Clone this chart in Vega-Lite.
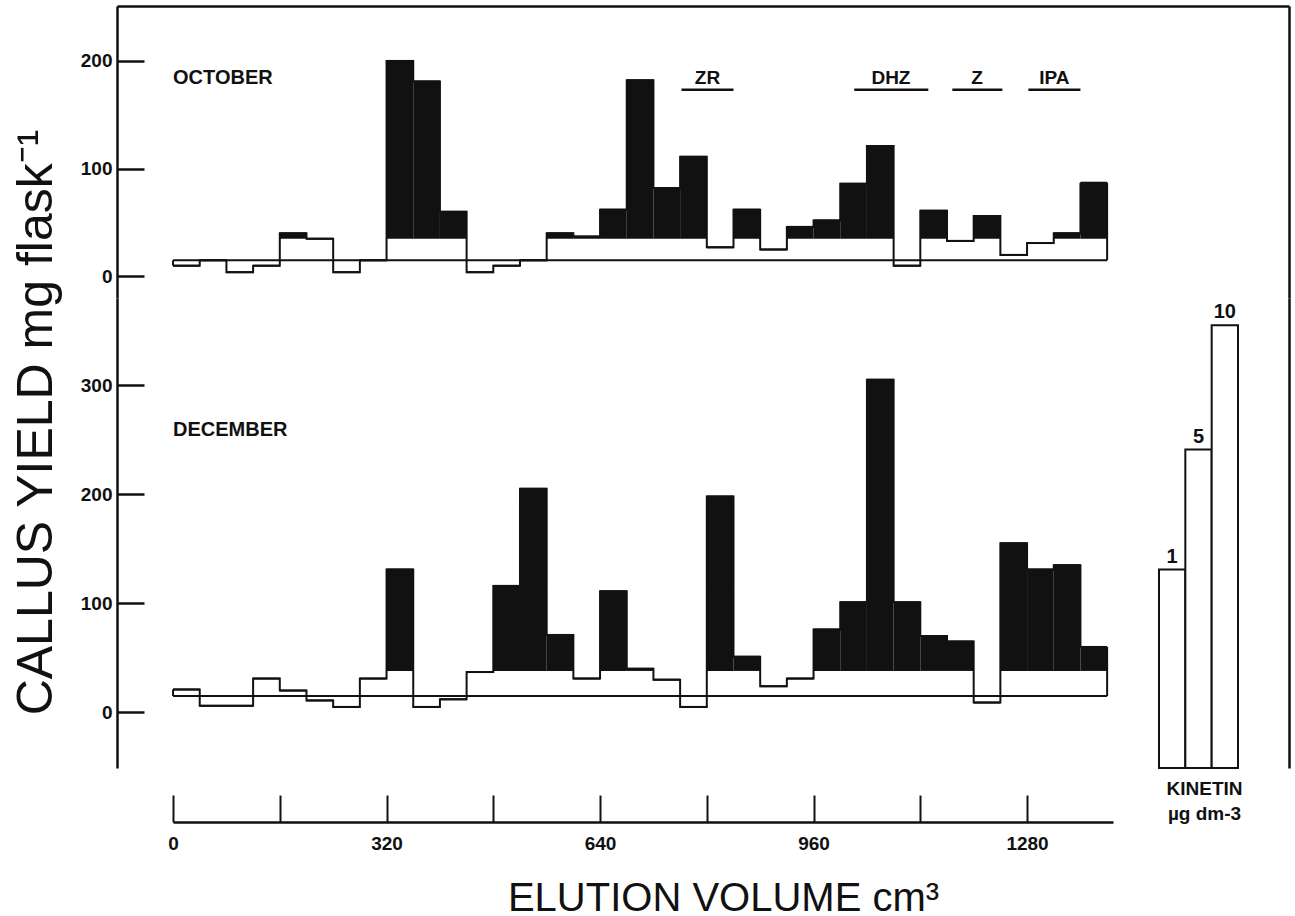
{
  "$schema": "https://vega.github.io/schema/vega-lite/v6.json",
  "background": "white",
  "padding": {"left": 10, "top": 6, "right": 5, "bottom": 0},
  "config": {"view": {"stroke": null}},
  "spacing": 0,
  "bounds": "flush",
  "datasets": {
    "levels": [
      {"month": "OCT", "label": "OCTOBER", "from": 0, "to": 1400, "control": 15, "thr": 35},
      {"month": "DEC", "label": "DECEMBER", "from": 0, "to": 1400, "control": 15, "thr": 38}
    ],
    "fr": [
      {"month": "OCT", "start": 0, "end": 40, "v": 10}, {"month": "OCT", "start": 40, "end": 80, "v": 15}, {"month": "OCT", "start": 80, "end": 120, "v": 4},
      {"month": "OCT", "start": 120, "end": 160, "v": 10}, {"month": "OCT", "start": 160, "end": 200, "v": 40}, {"month": "OCT", "start": 200, "end": 240, "v": 35},
      {"month": "OCT", "start": 240, "end": 280, "v": 4}, {"month": "OCT", "start": 280, "end": 320, "v": 15}, {"month": "OCT", "start": 320, "end": 360, "v": 200},
      {"month": "OCT", "start": 360, "end": 400, "v": 181}, {"month": "OCT", "start": 400, "end": 440, "v": 60}, {"month": "OCT", "start": 440, "end": 480, "v": 4},
      {"month": "OCT", "start": 480, "end": 520, "v": 10}, {"month": "OCT", "start": 520, "end": 560, "v": 15}, {"month": "OCT", "start": 560, "end": 600, "v": 40},
      {"month": "OCT", "start": 600, "end": 640, "v": 37}, {"month": "OCT", "start": 640, "end": 680, "v": 62}, {"month": "OCT", "start": 680, "end": 720, "v": 182},
      {"month": "OCT", "start": 720, "end": 760, "v": 82}, {"month": "OCT", "start": 760, "end": 800, "v": 111}, {"month": "OCT", "start": 800, "end": 840, "v": 27},
      {"month": "OCT", "start": 840, "end": 880, "v": 62}, {"month": "OCT", "start": 880, "end": 920, "v": 25}, {"month": "OCT", "start": 920, "end": 960, "v": 46},
      {"month": "OCT", "start": 960, "end": 1000, "v": 52}, {"month": "OCT", "start": 1000, "end": 1040, "v": 86}, {"month": "OCT", "start": 1040, "end": 1080, "v": 121},
      {"month": "OCT", "start": 1080, "end": 1120, "v": 10}, {"month": "OCT", "start": 1120, "end": 1160, "v": 61}, {"month": "OCT", "start": 1160, "end": 1200, "v": 33},
      {"month": "OCT", "start": 1200, "end": 1240, "v": 56}, {"month": "OCT", "start": 1240, "end": 1280, "v": 20}, {"month": "OCT", "start": 1280, "end": 1320, "v": 31},
      {"month": "OCT", "start": 1320, "end": 1360, "v": 40}, {"month": "OCT", "start": 1360, "end": 1400, "v": 87},
      {"month": "DEC", "start": 0, "end": 40, "v": 21}, {"month": "DEC", "start": 40, "end": 80, "v": 6}, {"month": "DEC", "start": 80, "end": 120, "v": 6},
      {"month": "DEC", "start": 120, "end": 160, "v": 31}, {"month": "DEC", "start": 160, "end": 200, "v": 20}, {"month": "DEC", "start": 200, "end": 240, "v": 11},
      {"month": "DEC", "start": 240, "end": 280, "v": 5}, {"month": "DEC", "start": 280, "end": 320, "v": 31}, {"month": "DEC", "start": 320, "end": 360, "v": 131},
      {"month": "DEC", "start": 360, "end": 400, "v": 5}, {"month": "DEC", "start": 400, "end": 440, "v": 12}, {"month": "DEC", "start": 440, "end": 480, "v": 37},
      {"month": "DEC", "start": 480, "end": 520, "v": 116}, {"month": "DEC", "start": 520, "end": 560, "v": 205}, {"month": "DEC", "start": 560, "end": 600, "v": 71},
      {"month": "DEC", "start": 600, "end": 640, "v": 31}, {"month": "DEC", "start": 640, "end": 680, "v": 111}, {"month": "DEC", "start": 680, "end": 720, "v": 40},
      {"month": "DEC", "start": 720, "end": 760, "v": 30}, {"month": "DEC", "start": 760, "end": 800, "v": 5}, {"month": "DEC", "start": 800, "end": 840, "v": 198},
      {"month": "DEC", "start": 840, "end": 880, "v": 51}, {"month": "DEC", "start": 880, "end": 920, "v": 24}, {"month": "DEC", "start": 920, "end": 960, "v": 31},
      {"month": "DEC", "start": 960, "end": 1000, "v": 76}, {"month": "DEC", "start": 1000, "end": 1040, "v": 101}, {"month": "DEC", "start": 1040, "end": 1080, "v": 305},
      {"month": "DEC", "start": 1080, "end": 1120, "v": 101}, {"month": "DEC", "start": 1120, "end": 1160, "v": 70}, {"month": "DEC", "start": 1160, "end": 1200, "v": 65},
      {"month": "DEC", "start": 1200, "end": 1240, "v": 9}, {"month": "DEC", "start": 1240, "end": 1280, "v": 155}, {"month": "DEC", "start": 1280, "end": 1320, "v": 131},
      {"month": "DEC", "start": 1320, "end": 1360, "v": 135}, {"month": "DEC", "start": 1360, "end": 1400, "v": 60}
    ],
    "std": [
      {"name": "ZR", "start": 762, "end": 840, "mid": 801},
      {"name": "DHZ", "start": 1021, "end": 1132, "mid": 1076},
      {"name": "Z", "start": 1168, "end": 1243, "mid": 1205},
      {"name": "IPA", "start": 1282, "end": 1360, "mid": 1321}
    ],
    "kin": [
      {"dose": "1", "yield": 131, "base": -51},
      {"dose": "5", "yield": 241, "base": -51},
      {"dose": "10", "yield": 355, "base": -51}
    ]
  },
  "vconcat": [
    {
      "width": 1172,
      "height": 292,
      "layer": [
        {
          "data": {"name": "levels"},
          "transform": [{"filter": "datum.month == 'OCT'"}],
          "mark": {"type": "rule", "stroke": "#111", "strokeWidth": 2},
          "encoding": {
            "x": {"field": "from", "type": "quantitative", "scale": {"domain": [-84, 1672.6], "nice": false, "zero": false},
              "axis": {"orient": "top", "title": null, "ticks": false, "labels": false, "grid": false, "domainColor": "#111", "domainWidth": 2.5}},
            "x2": {"field": "to"},
            "y": {"field": "control", "type": "quantitative", "scale": {"domain": [-20, 251], "nice": false, "zero": false},
              "axis": {"orient": "left", "values": [0, 100, 200], "format": "d", "title": null, "grid": false, "domainColor": "#111", "domainWidth": 2.5,
                "tickColor": "#111", "tickWidth": 2.5, "tickSize": -27, "labelFont": "Liberation Sans", "labelFontSize": 19,
                "labelFontWeight": "bold", "labelColor": "#111", "labelPadding": 32}}
          }
        },
        {
          "data": {"name": "fr"},
          "transform": [
            {"filter": "datum.month == 'OCT'"},
            {"lookup": "month", "from": {"data": {"name": "levels"}, "key": "month", "fields": ["control", "thr"]}},
            {"filter": "datum.v > datum.thr"}
          ],
          "mark": {"type": "rect", "fill": "#111"},
          "encoding": {
            "x": {"field": "start", "type": "quantitative", "axis": null},
            "x2": {"field": "end"},
            "y": {"field": "v", "type": "quantitative", "axis": null},
            "y2": {"field": "thr"}
          }
        },
        {
          "data": {"name": "fr"},
          "transform": [{"filter": "datum.month == 'OCT'"}],
          "mark": {"type": "rule", "stroke": "#111", "strokeWidth": 2},
          "encoding": {
            "x": {"field": "start", "type": "quantitative", "axis": null},
            "x2": {"field": "end"},
            "y": {"field": "v", "type": "quantitative",
              "axis": {"orient": "right", "title": null, "ticks": false, "labels": false, "grid": false, "domainColor": "#111", "domainWidth": 2.5}}
          }
        },
        {
          "data": {"name": "fr"},
          "transform": [{"filter": "datum.month == 'OCT'"}],
          "mark": {"type": "line", "interpolate": "step-after", "stroke": "#111", "strokeWidth": 2},
          "encoding": {
            "x": {"field": "start", "type": "quantitative", "axis": null},
            "y": {"field": "v", "type": "quantitative", "axis": null}
          }
        },
        {
          "data": {"name": "fr"},
          "transform": [
            {"filter": "datum.month == 'OCT' && datum.start == 0"},
            {"lookup": "month", "from": {"data": {"name": "levels"}, "key": "month", "fields": ["control"]}}
          ],
          "mark": {"type": "rule", "stroke": "#111", "strokeWidth": 2},
          "encoding": {
            "x": {"field": "start", "type": "quantitative", "axis": null},
            "y": {"field": "control", "type": "quantitative", "axis": null},
            "y2": {"field": "v"}
          }
        },
        {
          "data": {"name": "fr"},
          "transform": [
            {"filter": "datum.month == 'OCT' && datum.end == 1400"},
            {"lookup": "month", "from": {"data": {"name": "levels"}, "key": "month", "fields": ["control"]}}
          ],
          "mark": {"type": "rule", "stroke": "#111", "strokeWidth": 2},
          "encoding": {
            "x": {"field": "end", "type": "quantitative", "axis": null},
            "y": {"field": "control", "type": "quantitative", "axis": null},
            "y2": {"field": "v"}
          }
        },
        {
          "data": {"name": "levels"},
          "transform": [{"filter": "datum.month == 'OCT'"}],
          "mark": {"type": "text", "align": "left", "baseline": "middle", "font": "Liberation Sans", "fontSize": 20, "fontWeight": "bold", "fill": "#111"},
          "encoding": {
            "x": {"field": "from", "type": "quantitative", "axis": null},
            "y": {"datum": 184, "type": "quantitative", "axis": null},
            "text": {"field": "label", "type": "nominal"}
          }
        },
        {
          "data": {"name": "std"},
          "mark": {"type": "rule", "stroke": "#111", "strokeWidth": 2.5, "yOffset": 12},
          "encoding": {
            "x": {"field": "start", "type": "quantitative", "axis": null},
            "x2": {"field": "end"},
            "y": {"datum": 184.5, "type": "quantitative", "axis": null}
          }
        },
        {
          "data": {"name": "std"},
          "mark": {"type": "text", "align": "center", "baseline": "middle", "font": "Liberation Sans", "fontSize": 19, "fontWeight": "bold", "fill": "#111"},
          "encoding": {
            "x": {"field": "mid", "type": "quantitative", "axis": null},
            "y": {"datum": 184.5, "type": "quantitative", "axis": null},
            "text": {"field": "name", "type": "nominal"}
          }
        }
      ],
      "resolve": {"axis": {"x": "independent", "y": "independent"}}
    },
    {
      "width": 1172,
      "height": 470,
      "layer": [
        {
          "data": {"name": "levels"},
          "transform": [{"filter": "datum.month == 'DEC'"}],
          "mark": {"type": "rule", "stroke": "#111", "strokeWidth": 2},
          "encoding": {
            "x": {"field": "from", "type": "quantitative", "scale": {"domain": [-84, 1672.6], "nice": false, "zero": false},
              "axis": {"orient": "bottom", "offset": 54, "values": [0, 160, 320, 480, 640, 800, 960, 1120, 1280], "format": "d",
                "labelExpr": "datum.value % 320 === 0 ? datum.label : ''", "domain": true, "domainColor": "#111", "domainWidth": 2.5,
                "domainDash": [0, 56, 940, 400], "grid": false,
                "tickColor": "#111", "tickWidth": 2, "tickSize": -27, "labelFont": "Liberation Sans", "labelFontSize": 19,
                "labelFontWeight": "bold", "labelColor": "#111", "labelPadding": 39,
                "title": "ELUTION VOLUME cm³", "titleFont": "Liberation Sans", "titleFontSize": 40, "titleFontWeight": "normal",
                "titleColor": "#111", "titleX": 606, "titleY": 88, "titleBaseline": "alphabetic", "titleAlign": "center"}},
            "x2": {"field": "to"},
            "y": {"field": "control", "type": "quantitative", "scale": {"domain": [-51, 380], "nice": false, "zero": false},
              "axis": {"orient": "left", "values": [0, 100, 200, 300], "format": "d", "grid": false, "domainColor": "#111", "domainWidth": 2.5,
                "tickColor": "#111", "tickWidth": 2.5, "tickSize": -27, "labelFont": "Liberation Sans", "labelFontSize": 19,
                "labelFontWeight": "bold", "labelColor": "#111", "labelPadding": 32,
                "title": "CALLUS YIELD mg flask⁻¹", "titleFont": "Liberation Sans", "titleFontSize": 50, "titleFontWeight": "normal",
                "titleColor": "#111", "titleAngle": -90, "titleAlign": "center", "titleBaseline": "middle", "titleX": -81, "titleY": 124}}
          }
        },
        {
          "data": {"name": "fr"},
          "transform": [
            {"filter": "datum.month == 'DEC'"},
            {"lookup": "month", "from": {"data": {"name": "levels"}, "key": "month", "fields": ["control", "thr"]}},
            {"filter": "datum.v > datum.thr"}
          ],
          "mark": {"type": "rect", "fill": "#111"},
          "encoding": {
            "x": {"field": "start", "type": "quantitative", "scale": {"domain": [-84, 1672.6], "nice": false, "zero": false}, "axis": null},
            "x2": {"field": "end"},
            "y": {"field": "v", "type": "quantitative", "axis": null},
            "y2": {"field": "thr"}
          }
        },
        {
          "data": {"name": "fr"},
          "transform": [{"filter": "datum.month == 'DEC'"}],
          "mark": {"type": "rule", "stroke": "#111", "strokeWidth": 2},
          "encoding": {
            "x": {"field": "start", "type": "quantitative", "scale": {"domain": [-84, 1672.6], "nice": false, "zero": false}, "axis": null},
            "x2": {"field": "end"},
            "y": {"field": "v", "type": "quantitative",
              "axis": {"orient": "right", "title": null, "ticks": false, "labels": false, "grid": false, "domainColor": "#111", "domainWidth": 2.5}}
          }
        },
        {
          "data": {"name": "fr"},
          "transform": [{"filter": "datum.month == 'DEC'"}],
          "mark": {"type": "line", "interpolate": "step-after", "stroke": "#111", "strokeWidth": 2},
          "encoding": {
            "x": {"field": "start", "type": "quantitative", "scale": {"domain": [-84, 1672.6], "nice": false, "zero": false}, "axis": null},
            "y": {"field": "v", "type": "quantitative", "axis": null}
          }
        },
        {
          "data": {"name": "fr"},
          "transform": [
            {"filter": "datum.month == 'DEC' && datum.start == 0"},
            {"lookup": "month", "from": {"data": {"name": "levels"}, "key": "month", "fields": ["control"]}}
          ],
          "mark": {"type": "rule", "stroke": "#111", "strokeWidth": 2},
          "encoding": {
            "x": {"field": "start", "type": "quantitative", "scale": {"domain": [-84, 1672.6], "nice": false, "zero": false}, "axis": null},
            "y": {"field": "control", "type": "quantitative", "axis": null},
            "y2": {"field": "v"}
          }
        },
        {
          "data": {"name": "fr"},
          "transform": [
            {"filter": "datum.month == 'DEC' && datum.end == 1400"},
            {"lookup": "month", "from": {"data": {"name": "levels"}, "key": "month", "fields": ["control"]}}
          ],
          "mark": {"type": "rule", "stroke": "#111", "strokeWidth": 2},
          "encoding": {
            "x": {"field": "end", "type": "quantitative", "scale": {"domain": [-84, 1672.6], "nice": false, "zero": false}, "axis": null},
            "y": {"field": "control", "type": "quantitative", "axis": null},
            "y2": {"field": "v"}
          }
        },
        {
          "data": {"name": "levels"},
          "transform": [{"filter": "datum.month == 'DEC'"}],
          "mark": {"type": "text", "align": "left", "baseline": "middle", "font": "Liberation Sans", "fontSize": 20, "fontWeight": "bold", "fill": "#111"},
          "encoding": {
            "x": {"field": "from", "type": "quantitative", "scale": {"domain": [-84, 1672.6], "nice": false, "zero": false}, "axis": null},
            "y": {"datum": 259, "type": "quantitative", "axis": null},
            "text": {"field": "label", "type": "nominal"}
          }
        },
        {
          "data": {"name": "kin"},
          "mark": {"type": "rect", "fill": "white", "stroke": "#111", "strokeWidth": 2},
          "encoding": {
            "x": {"field": "dose", "type": "nominal", "axis": null,
              "scale": {"type": "band", "domain": ["1", "5", "10"], "range": [1042, 1121], "paddingInner": 0, "paddingOuter": 0}},
            "y": {"field": "yield", "type": "quantitative", "axis": null},
            "y2": {"field": "base"}
          }
        },
        {
          "data": {"name": "kin"},
          "mark": {"type": "text", "baseline": "bottom", "dy": -3, "font": "Liberation Sans", "fontSize": 20, "fontWeight": "bold", "fill": "#111"},
          "encoding": {
            "x": {"field": "dose", "type": "nominal", "axis": null,
              "scale": {"type": "band", "domain": ["1", "5", "10"], "range": [1042, 1121], "paddingInner": 0, "paddingOuter": 0}},
            "y": {"field": "yield", "type": "quantitative", "axis": null},
            "text": {"field": "dose", "type": "nominal"}
          }
        },
        {
          "data": {"name": "kin"},
          "transform": [{"filter": "datum.dose == '5'"}],
          "mark": {"type": "text", "baseline": "top", "align": "center", "dx": 6, "dy": 12, "lineHeight": 25, "font": "Liberation Sans", "fontSize": 19, "fontWeight": "bold", "fill": "#111",
            "text": ["KINETIN", "µg dm-3"]},
          "encoding": {
            "x": {"field": "dose", "type": "nominal", "axis": null,
              "scale": {"type": "band", "domain": ["1", "5", "10"], "range": [1042, 1121], "paddingInner": 0, "paddingOuter": 0}},
            "y": {"field": "base", "type": "quantitative", "axis": null}
          }
        }
      ],
      "resolve": {"scale": {"x": "independent"}, "axis": {"x": "independent", "y": "independent"}}
    }
  ]
}
